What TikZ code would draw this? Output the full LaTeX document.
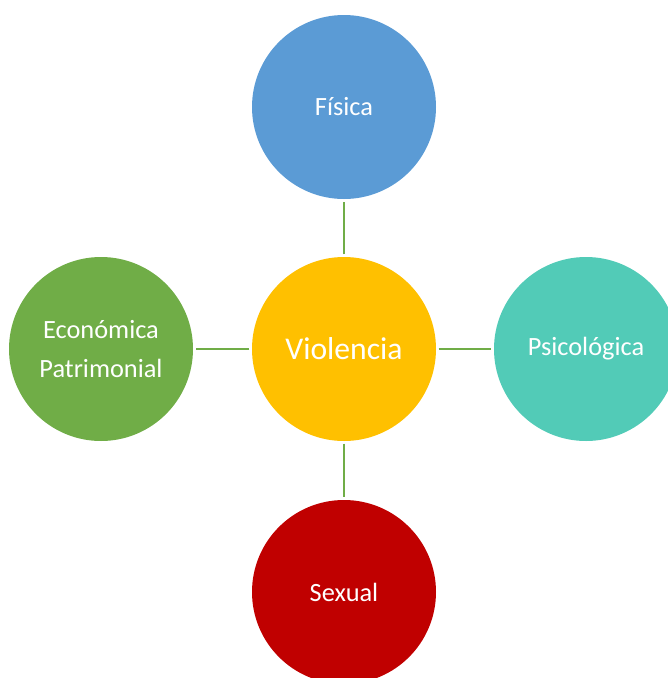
\documentclass[tikz,border=0pt]{standalone}
\usepackage{fontspec}
\setmainfont{Carlito}
\definecolor{azul}{HTML}{5B9BD5}
\definecolor{ambar}{HTML}{FFC000}
\definecolor{turquesa}{HTML}{52CBB7}
\definecolor{verde}{HTML}{70AD47}
\definecolor{rojo}{HTML}{C00000}
\tikzset{
  tipo/.style={circle, minimum size=3.68cm, inner sep=0pt, outer sep=1.5pt, text=white, font=\fontsize{15}{22.7}\selectfont, align=center}
}
\begin{document}
\begin{tikzpicture}
    \useasboundingbox (0,0) rectangle (13.36,-13.56);
    \clip (0,0) rectangle (13.36,-13.56);
    \node[tipo, fill=ambar, font=\fontsize{18}{22}\selectfont] at (6.88,-6.98) (1) {Violencia};
    \node[tipo, fill=azul] at (6.88,-2.14) (2) {Física};
    \node[tipo, fill=turquesa] at (11.72,-6.98) (3) {Psicológica};
    \node[tipo, fill=verde] at (2.02,-6.98) (4) {Económica\\Patrimonial};
    \node[tipo, fill=rojo] at (6.88,-11.84) (5) {Sexual};
    
    \draw[-, color=verde, line width=1.2pt] (1) to (2);
    \draw[-, color=verde, line width=1.2pt] (1) to (3);
    \draw[-, color=verde, line width=1.2pt] (1) to (4);
    \draw[-, color=verde, line width=1.2pt] (1) to (5);
  \end{tikzpicture}
\end{document}
